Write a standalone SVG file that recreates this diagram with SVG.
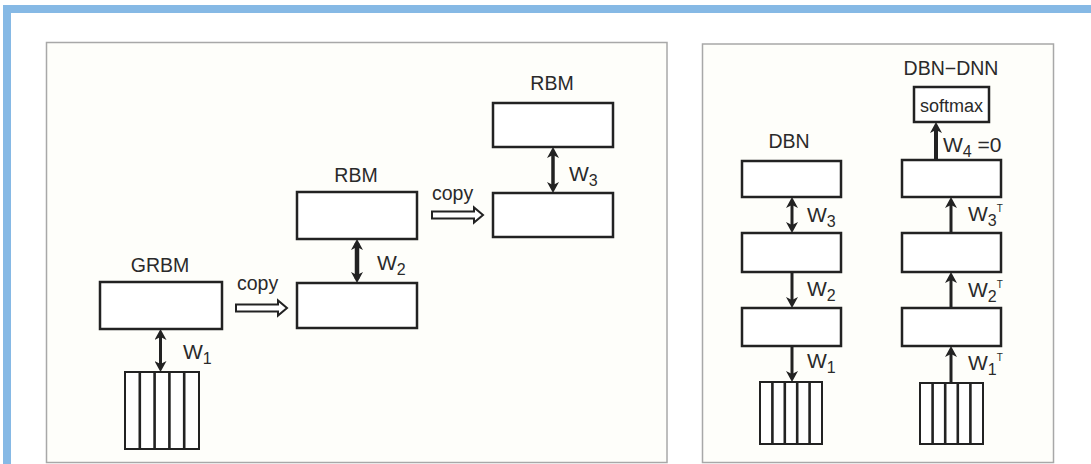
<svg xmlns="http://www.w3.org/2000/svg" width="1091" height="464" viewBox="0 0 1091 464">
<defs>
<style>
.panel{fill:#fefefa;stroke:#a8a8a8;stroke-width:1.5}
.box{fill:#ffffff;stroke:#222;stroke-width:2.5}
.vis{fill:#ffffff;stroke:#222;stroke-width:2}
.stripe{stroke:#222;stroke-width:2.6}
.lbl{font-family:"Liberation Sans",Arial,sans-serif;font-size:19.5px;fill:#2a2a2a}
.w{font-family:"Liberation Sans",Arial,sans-serif;font-size:21px;fill:#2a2a2a}
.conn{stroke:#222;fill:none}
.copy{fill:#fff;stroke:#222;stroke-width:2}
</style>
<marker id="ah" viewBox="0 0 11 12" markerWidth="11" markerHeight="12" refX="7" refY="6" orient="auto-start-reverse" markerUnits="userSpaceOnUse">
<path d="M0,0 L11,6 L0,12 L3,6 Z" fill="#222"/>
</marker>
</defs>
<rect x="0" y="0" width="1091" height="464" fill="#ffffff"/>
<rect x="3" y="5" width="1088" height="8" fill="#86b9e5"/>
<rect x="3" y="5" width="8" height="459" fill="#86b9e5"/>
<rect class="panel" x="46.5" y="42.5" width="620.5" height="420"/>
<rect class="panel" x="702.5" y="44" width="351" height="418.5"/>

<g id="grbm">
<rect class="box" x="100" y="282" width="122" height="47"/>
<text class="lbl" x="160" y="272" text-anchor="middle">GRBM</text>
</g>
<g id="visible-left">
<rect class="vis" x="125" y="372" width="74" height="77"/>
<path class="stripe" d="M139.8,372V449M154.6,372V449M169.4,372V449M184.2,372V449"/>
</g>
<g id="rbm2-bottom"><rect class="box" x="297" y="283" width="120" height="45"/></g>
<g id="rbm2-top">
<rect class="box" x="297" y="192" width="120" height="47"/>
<text class="lbl" x="356" y="182" text-anchor="middle">RBM</text>
</g>
<g id="rbm3-bottom"><rect class="box" x="493" y="193" width="120" height="44"/></g>
<g id="rbm3-top">
<rect class="box" x="493" y="103" width="120" height="44"/>
<text class="lbl" x="552" y="90" text-anchor="middle">RBM</text>
</g>

<g id="dbn-label"><text class="lbl" x="789" y="148" text-anchor="middle">DBN</text></g>
<g id="dbn-h3"><rect class="box" x="742" y="161" width="99" height="36"/></g>
<g id="dbn-h2"><rect class="box" x="742" y="233" width="99" height="39"/></g>
<g id="dbn-h1"><rect class="box" x="742" y="308" width="99" height="38"/></g>
<g id="dbn-visible">
<rect class="vis" x="760" y="382" width="62" height="62"/>
<path class="stripe" d="M772.4,382V444M784.8,382V444M797.2,382V444M809.6,382V444"/>
</g>

<g id="dnn-label"><text class="lbl" x="951" y="75" text-anchor="middle">DBN−DNN</text></g>
<g id="softmax">
<rect class="box" x="914" y="87" width="75" height="35"/>
<text class="lbl" x="951.5" y="112" text-anchor="middle" style="font-size:18px">softmax</text>
</g>
<g id="dnn-h3"><rect class="box" x="902" y="160" width="99" height="37"/></g>
<g id="dnn-h2"><rect class="box" x="902" y="233" width="99" height="39"/></g>
<g id="dnn-h1"><rect class="box" x="902" y="308" width="99" height="38"/></g>
<g id="dnn-visible">
<rect class="vis" x="920" y="383" width="63" height="61"/>
<path class="stripe" d="M932.6,383V444M945.2,383V444M957.8,383V444M970.4,383V444"/>
</g>

<g id="connectors">
<line class="conn" x1="160.5" y1="333" x2="160.5" y2="368" stroke-width="3" marker-start="url(#ah)" marker-end="url(#ah)"/>
<line class="conn" x1="357" y1="243" x2="357" y2="279" stroke-width="4.5" marker-start="url(#ah)" marker-end="url(#ah)"/>
<line class="conn" x1="553" y1="151" x2="553" y2="189" stroke-width="3.5" marker-start="url(#ah)" marker-end="url(#ah)"/>
<path class="copy" d="M236,304.5 H278 V300.5 L287,308 L278,315.5 V311.5 H236 Z"/>
<path class="copy" d="M432,211.5 H474 V207.5 L483,215 L474,222.5 V218.5 H432 Z"/>
<line class="conn" x1="792" y1="201" x2="792" y2="229" stroke-width="3" marker-start="url(#ah)" marker-end="url(#ah)"/>
<line class="conn" x1="792" y1="272" x2="792" y2="304" stroke-width="3" marker-end="url(#ah)"/>
<line class="conn" x1="792" y1="346" x2="792" y2="378" stroke-width="3" marker-end="url(#ah)"/>
<line class="conn" x1="936" y1="160" x2="936" y2="126" stroke-width="4" marker-end="url(#ah)"/>
<line class="conn" x1="951" y1="233" x2="951" y2="201" stroke-width="3" marker-end="url(#ah)"/>
<line class="conn" x1="951" y1="308" x2="951" y2="276" stroke-width="3" marker-end="url(#ah)"/>
<line class="conn" x1="951" y1="383" x2="951" y2="350" stroke-width="3" marker-end="url(#ah)"/>
<text class="lbl" x="237" y="290">copy</text>
<text class="lbl" x="432" y="200">copy</text>
<text class="w" x="183" y="359">W<tspan dy="5" font-size="16">1</tspan></text>
<text class="w" x="377" y="270">W<tspan dy="5" font-size="16">2</tspan></text>
<text class="w" x="569" y="181">W<tspan dy="5" font-size="16">3</tspan></text>
<text class="w" x="807" y="222">W<tspan dy="5" font-size="16">3</tspan></text>
<text class="w" x="807" y="296">W<tspan dy="5" font-size="16">2</tspan></text>
<text class="w" x="807" y="368">W<tspan dy="5" font-size="16">1</tspan></text>
<text class="w" x="943" y="152">W<tspan dy="5" font-size="16">4</tspan><tspan dy="-5"> =0</tspan></text>
<text class="w" x="968" y="221">W<tspan dy="5" font-size="16">3</tspan><tspan dy="-14" font-size="10">T</tspan></text>
<text class="w" x="968" y="297">W<tspan dy="5" font-size="16">2</tspan><tspan dy="-14" font-size="10">T</tspan></text>
<text class="w" x="968" y="370">W<tspan dy="5" font-size="16">1</tspan><tspan dy="-14" font-size="10">T</tspan></text>
</g>
</svg>
